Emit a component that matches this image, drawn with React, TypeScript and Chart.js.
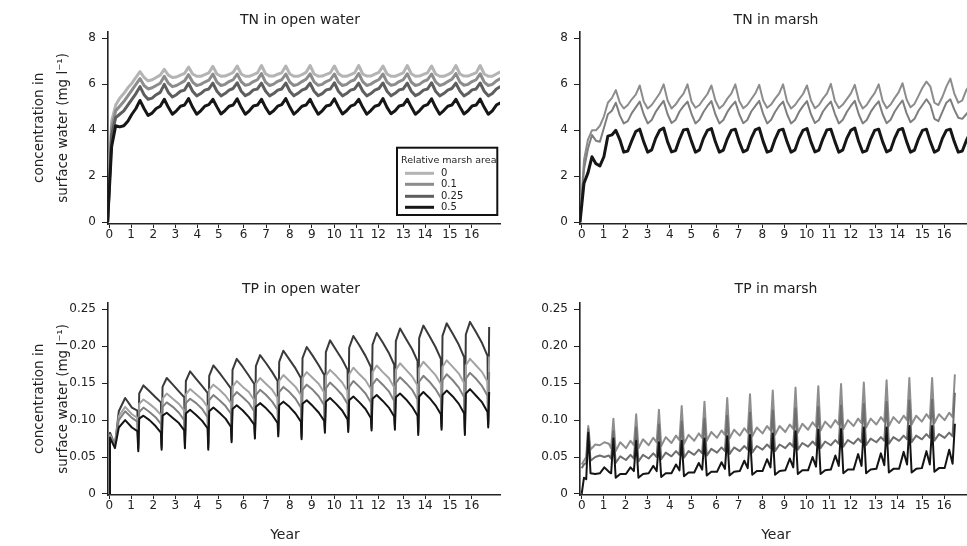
import React, { useEffect, useRef } from 'react';
import { Chart, registerables } from 'chart.js';

Chart.register(...registerables);

// ---------- axis labels ----------
const YEAR_LABELS = ['0', '1', '2', '3', '4', '5', '6', '7', '8', '9', '10', '11', '12', '13', '14', '15', '16'];
const YEAR_TICKS = [0, 0.96, 1.94, 2.91, 3.89, 4.84, 5.93, 6.92, 7.97, 8.94, 9.93, 10.92, 11.88, 12.98, 13.94, 15.04, 16.0];
const TN_TICKS = [0, 2, 4, 6, 8];
const TN_TICK_LABELS = ['0', '2', '4', '6', '8'];
const TP_TICKS = [0, 0.05, 0.1, 0.15, 0.2, 0.25];
const TP_TICK_LABELS = ['0', '0.05', '0.10', '0.15', '0.20', '0.25'];
const SERIES_LABELS = ['0', '0.1', '0.25', '0.5'];
const LEGEND_TITLE = 'Relative marsh area';
const Y_TITLE = ['concentration in', 'surface water (mg l\u207B\u00B9)'];

// ---------- time grids (years) ----------
const TNO_T0 = -0.075, TNO_DT = 0.1788, TNO_N = 99;
const TNM_T0 = -0.075, TNM_DT = 0.1758, TNM_N = 99;
const TPO_INIT_T = [0, 0.03, 0.25, 0.42, 0.7, 1.0, 1.24];
const TPO_START = 1.28, TPO_PERIOD = 1.03, TPO_CYCLES = 15;
const TPO_PHASES = [0, 0.04, 0.22, 0.48, 0.74, 0.97];
const TPO_FINAL = [0, 0.04];
const TPM_INIT_T = [0, 0.1, 0.2, 0.29, 0.39, 0.6, 0.8, 1.0, 1.2, 1.3];
const TPM_START = 1.4, TPM_PERIOD = 1.005, TPM_CYCLES = 15;
const TPM_PHASES = [0, 0.1, 0.3, 0.55, 0.75, 0.9];
const TPM_FINAL = [0];

// ---------- TN in open water ----------
const TNO_R0 = [
  0, 4.4, 5.1, 5.4, 5.6, 5.85, 6.05, 6.3,
  6.55, 6.3, 6.15, 6.2, 6.3, 6.4,
  6.65, 6.4, 6.3, 6.32, 6.4, 6.48,
  6.75, 6.45, 6.35, 6.35, 6.42, 6.5,
  6.78, 6.45, 6.35, 6.36, 6.43, 6.52,
  6.8, 6.45, 6.35, 6.35, 6.42, 6.5,
  6.82, 6.46, 6.36, 6.36, 6.44, 6.5,
  6.8, 6.45, 6.35, 6.35, 6.42, 6.52,
  6.82, 6.45, 6.35, 6.36, 6.43, 6.5,
  6.8, 6.46, 6.35, 6.35, 6.42, 6.5,
  6.82, 6.45, 6.36, 6.36, 6.44, 6.52,
  6.8, 6.45, 6.35, 6.35, 6.42, 6.5,
  6.82, 6.46, 6.35, 6.36, 6.43, 6.5,
  6.8, 6.45, 6.35, 6.35, 6.42, 6.52,
  6.82, 6.45, 6.36, 6.36, 6.43, 6.5,
  6.82, 6.45, 6.35, 6.35, 6.45, 6.55,
  6.8,
];
const TNO_R01 = [
  0, 4.1, 4.85, 5.05, 5.25, 5.5, 5.75, 6.0,
  6.25, 5.95, 5.8, 5.85, 5.95, 6.05,
  6.35, 6.05, 5.9, 5.95, 6.05, 6.15,
  6.42, 6.1, 5.95, 6.0, 6.1, 6.18,
  6.45, 6.1, 5.95, 6.0, 6.12, 6.2,
  6.45, 6.12, 5.96, 6.0, 6.12, 6.2,
  6.47, 6.1, 5.95, 6.01, 6.13, 6.2,
  6.45, 6.1, 5.95, 6.0, 6.12, 6.22,
  6.46, 6.11, 5.96, 6.0, 6.12, 6.2,
  6.45, 6.1, 5.95, 6.0, 6.13, 6.2,
  6.47, 6.12, 5.95, 6.01, 6.12, 6.21,
  6.45, 6.1, 5.96, 6.0, 6.12, 6.2,
  6.46, 6.1, 5.95, 6.0, 6.13, 6.2,
  6.45, 6.11, 5.95, 6.01, 6.12, 6.22,
  6.47, 6.1, 5.96, 6.0, 6.12, 6.2,
  6.46, 6.1, 5.95, 6.0, 6.15, 6.25,
  6.45,
];
const TNO_R025 = [
  0, 3.8, 4.55, 4.7, 4.85, 5.1, 5.35, 5.6,
  5.9, 5.55, 5.35, 5.4, 5.55, 5.65,
  6.0, 5.65, 5.45, 5.55, 5.7, 5.75,
  6.05, 5.7, 5.5, 5.6, 5.75, 5.8,
  6.05, 5.7, 5.5, 5.6, 5.75, 5.82,
  6.07, 5.7, 5.51, 5.6, 5.76, 5.8,
  6.05, 5.71, 5.5, 5.6, 5.75, 5.8,
  6.06, 5.7, 5.5, 5.61, 5.75, 5.82,
  6.05, 5.7, 5.51, 5.6, 5.76, 5.8,
  6.07, 5.7, 5.5, 5.6, 5.75, 5.8,
  6.05, 5.71, 5.5, 5.6, 5.75, 5.82,
  6.06, 5.7, 5.5, 5.61, 5.76, 5.8,
  6.05, 5.7, 5.51, 5.6, 5.75, 5.8,
  6.07, 5.7, 5.5, 5.6, 5.75, 5.82,
  6.05, 5.71, 5.5, 5.6, 5.76, 5.8,
  6.06, 5.7, 5.5, 5.6, 5.8, 5.9,
  6.1,
];
const TNO_R05 = [
  0, 3.3, 4.2, 4.15, 4.2, 4.4, 4.7, 4.95,
  5.3, 4.95, 4.65, 4.75, 4.95, 5.05,
  5.35, 5.0, 4.7, 4.85, 5.05, 5.1,
  5.38, 5.0, 4.7, 4.85, 5.05, 5.12,
  5.35, 5.02, 4.71, 4.86, 5.05, 5.1,
  5.37, 5.0, 4.7, 4.85, 5.06, 5.1,
  5.35, 5.0, 4.72, 4.85, 5.05, 5.12,
  5.38, 5.01, 4.7, 4.86, 5.05, 5.1,
  5.35, 5.0, 4.7, 4.85, 5.06, 5.1,
  5.37, 5.02, 4.71, 4.85, 5.05, 5.12,
  5.35, 5.0, 4.7, 4.86, 5.05, 5.1,
  5.38, 5.0, 4.72, 4.85, 5.06, 5.1,
  5.35, 5.01, 4.7, 4.85, 5.05, 5.12,
  5.37, 5.0, 4.7, 4.86, 5.05, 5.1,
  5.35, 5.02, 4.71, 4.85, 5.06, 5.1,
  5.36, 5.0, 4.7, 4.85, 5.1, 5.2,
  5.4,
];

// ---------- TN in marsh ----------
const TNM_R01 = [
  0, 2.7, 3.6, 4.0, 4.0, 4.2, 4.6, 5.2, 5.4,
  5.75, 5.2, 4.95, 5.1, 5.35, 5.55,
  5.95, 5.25, 4.95, 5.1, 5.35, 5.6,
  6.0, 5.3, 4.95, 5.12, 5.38, 5.6,
  6.0, 5.25, 4.98, 5.1, 5.35, 5.58,
  5.95, 5.3, 4.95, 5.1, 5.38, 5.6,
  6.0, 5.28, 4.96, 5.1, 5.35, 5.6,
  5.98, 5.3, 4.98, 5.12, 5.38, 5.6,
  6.0, 5.25, 4.95, 5.1, 5.35, 5.58,
  5.95, 5.3, 4.96, 5.1, 5.38, 5.6,
  6.02, 5.28, 4.97, 5.12, 5.36, 5.6,
  5.98, 5.3, 4.95, 5.1, 5.38, 5.62,
  6.0, 5.28, 4.96, 5.12, 5.4, 5.65,
  6.05, 5.35, 5.0, 5.15, 5.5, 5.85,
  6.12, 5.9, 5.2, 5.1, 5.45, 5.9,
  6.25, 5.6, 5.2, 5.3, 5.75, 6.0,
];
const TNM_R025 = [
  0, 2.3, 3.2, 3.8, 3.55, 3.5, 4.1, 4.7, 4.85,
  5.2, 4.65, 4.3, 4.4, 4.75, 5.0,
  5.25, 4.7, 4.3, 4.45, 4.8, 5.05,
  5.28, 4.7, 4.32, 4.45, 4.82, 5.05,
  5.25, 4.72, 4.3, 4.46, 4.8, 5.06,
  5.27, 4.7, 4.3, 4.45, 4.8, 5.05,
  5.25, 4.7, 4.31, 4.45, 4.82, 5.05,
  5.28, 4.72, 4.3, 4.46, 4.8, 5.06,
  5.25, 4.7, 4.3, 4.45, 4.8, 5.05,
  5.27, 4.7, 4.32, 4.45, 4.82, 5.05,
  5.25, 4.72, 4.3, 4.46, 4.8, 5.06,
  5.28, 4.7, 4.3, 4.45, 4.8, 5.05,
  5.26, 4.7, 4.31, 4.46, 4.82, 5.08,
  5.3, 4.75, 4.35, 4.5, 4.85, 5.1,
  5.35, 5.1, 4.5, 4.4, 4.8, 5.2,
  5.35, 4.9, 4.55, 4.5, 4.7, 4.9,
];
const TNM_R05 = [
  0, 1.7, 2.15, 2.85, 2.55, 2.45, 2.85, 3.75, 3.8,
  4.0, 3.6, 3.05, 3.1, 3.55, 3.95,
  4.05, 3.5, 3.05, 3.15, 3.65, 4.0,
  4.1, 3.5, 3.06, 3.12, 3.62, 4.02,
  4.05, 3.52, 3.05, 3.15, 3.65, 4.0,
  4.08, 3.5, 3.05, 3.14, 3.63, 4.0,
  4.05, 3.5, 3.06, 3.15, 3.65, 4.02,
  4.1, 3.52, 3.05, 3.12, 3.62, 4.0,
  4.05, 3.5, 3.05, 3.15, 3.65, 4.0,
  4.08, 3.5, 3.06, 3.14, 3.63, 4.02,
  4.05, 3.52, 3.05, 3.15, 3.65, 4.0,
  4.1, 3.5, 3.05, 3.12, 3.62, 4.0,
  4.05, 3.5, 3.06, 3.15, 3.65, 4.02,
  4.08, 3.52, 3.05, 3.14, 3.63, 4.0,
  4.05, 3.5, 3.05, 3.15, 3.65, 4.0,
  4.05, 3.5, 3.05, 3.1, 3.55, 3.9,
];

// ---------- TP in open water ----------
const TPO_R025 = [
  0, 0.083, 0.066, 0.112, 0.13, 0.117, 0.113,
  0.066, 0.136, 0.147, 0.139, 0.131, 0.124,
  0.068, 0.145, 0.157, 0.148, 0.139, 0.131,
  0.07, 0.153, 0.166, 0.156, 0.146, 0.137,
  0.068, 0.16, 0.174, 0.164, 0.153, 0.143,
  0.078, 0.168, 0.183, 0.172, 0.16, 0.149,
  0.083, 0.173, 0.188, 0.177, 0.165, 0.153,
  0.086, 0.179, 0.194, 0.182, 0.17, 0.157,
  0.082, 0.184, 0.199, 0.187, 0.174, 0.161,
  0.091, 0.192, 0.208, 0.195, 0.182, 0.168,
  0.092, 0.198, 0.214, 0.201, 0.187, 0.172,
  0.094, 0.202, 0.218, 0.205, 0.191, 0.175,
  0.095, 0.207, 0.224, 0.21, 0.196, 0.18,
  0.088, 0.211, 0.228, 0.214, 0.199, 0.183,
  0.095, 0.214, 0.231, 0.217, 0.202, 0.185,
  0.088, 0.216, 0.233, 0.219, 0.204, 0.187,
  0.098, 0.226,
];
const TPO_R0 = [
  0, 0.08, 0.068, 0.105, 0.118, 0.108, 0.103,
  0.063, 0.122, 0.128, 0.122, 0.115, 0.107,
  0.065, 0.129, 0.136, 0.129, 0.122, 0.113,
  0.067, 0.135, 0.142, 0.135, 0.128, 0.118,
  0.065, 0.141, 0.148, 0.141, 0.133, 0.123,
  0.075, 0.145, 0.153, 0.145, 0.138, 0.127,
  0.08, 0.149, 0.157, 0.149, 0.141, 0.13,
  0.083, 0.153, 0.161, 0.153, 0.145, 0.134,
  0.079, 0.157, 0.165, 0.157, 0.149, 0.137,
  0.088, 0.16, 0.168, 0.16, 0.151, 0.139,
  0.089, 0.162, 0.171, 0.162, 0.154, 0.142,
  0.091, 0.165, 0.174, 0.165, 0.157, 0.144,
  0.092, 0.168, 0.177, 0.168, 0.159, 0.147,
  0.085, 0.17, 0.179, 0.17, 0.161, 0.149,
  0.092, 0.172, 0.181, 0.172, 0.163, 0.15,
  0.085, 0.174, 0.183, 0.174, 0.165, 0.152,
  0.095, 0.186,
];
const TPO_R01 = [
  0, 0.078, 0.068, 0.1, 0.112, 0.103, 0.098,
  0.061, 0.111, 0.117, 0.111, 0.104, 0.095,
  0.063, 0.118, 0.124, 0.118, 0.11, 0.1,
  0.065, 0.123, 0.129, 0.123, 0.115, 0.104,
  0.063, 0.127, 0.134, 0.127, 0.119, 0.109,
  0.073, 0.131, 0.138, 0.131, 0.123, 0.112,
  0.078, 0.134, 0.141, 0.134, 0.125, 0.114,
  0.081, 0.138, 0.145, 0.138, 0.129, 0.117,
  0.077, 0.141, 0.148, 0.141, 0.132, 0.12,
  0.086, 0.143, 0.151, 0.143, 0.134, 0.122,
  0.087, 0.145, 0.153, 0.145, 0.136, 0.124,
  0.089, 0.148, 0.156, 0.148, 0.139, 0.126,
  0.09, 0.15, 0.158, 0.15, 0.141, 0.128,
  0.083, 0.152, 0.16, 0.152, 0.142, 0.13,
  0.09, 0.154, 0.162, 0.154, 0.144, 0.131,
  0.083, 0.156, 0.164, 0.156, 0.146, 0.133,
  0.093, 0.165,
];
const TPO_R05 = [
  0, 0.076, 0.062, 0.09, 0.1, 0.09, 0.085,
  0.058, 0.102, 0.106, 0.1, 0.092, 0.083,
  0.06, 0.106, 0.11, 0.103, 0.096, 0.086,
  0.062, 0.109, 0.114, 0.107, 0.099, 0.089,
  0.06, 0.112, 0.117, 0.11, 0.102, 0.091,
  0.07, 0.115, 0.12, 0.113, 0.104, 0.094,
  0.075, 0.118, 0.123, 0.116, 0.107, 0.096,
  0.078, 0.12, 0.125, 0.118, 0.109, 0.098,
  0.074, 0.122, 0.127, 0.119, 0.11, 0.099,
  0.083, 0.125, 0.13, 0.122, 0.113, 0.101,
  0.084, 0.127, 0.132, 0.124, 0.115, 0.103,
  0.086, 0.129, 0.134, 0.126, 0.117, 0.105,
  0.087, 0.131, 0.136, 0.128, 0.118, 0.106,
  0.08, 0.132, 0.138, 0.13, 0.12, 0.108,
  0.087, 0.134, 0.14, 0.132, 0.122, 0.109,
  0.08, 0.136, 0.142, 0.133, 0.124, 0.111,
  0.09, 0.138,
];

// ---------- TP in marsh ----------
const TPM_R01 = [
  0.04, 0.045, 0.05, 0.092, 0.06, 0.067, 0.066, 0.07, 0.068, 0.062,
  0.102, 0.058, 0.07, 0.062, 0.072, 0.066,
  0.108, 0.062, 0.074, 0.066, 0.076, 0.07,
  0.114, 0.065, 0.077, 0.069, 0.079, 0.073,
  0.119, 0.068, 0.08, 0.072, 0.082, 0.076,
  0.125, 0.072, 0.084, 0.076, 0.086, 0.08,
  0.13, 0.075, 0.087, 0.079, 0.089, 0.083,
  0.135, 0.078, 0.09, 0.082, 0.092, 0.086,
  0.14, 0.08, 0.092, 0.084, 0.094, 0.088,
  0.144, 0.083, 0.095, 0.087, 0.097, 0.091,
  0.146, 0.086, 0.098, 0.09, 0.1, 0.094,
  0.149, 0.088, 0.1, 0.092, 0.102, 0.096,
  0.151, 0.09, 0.102, 0.094, 0.104, 0.098,
  0.154, 0.092, 0.104, 0.096, 0.106, 0.1,
  0.157, 0.094, 0.106, 0.098, 0.108, 0.102,
  0.157, 0.096, 0.108, 0.1, 0.11, 0.104,
  0.162,
];
const TPM_R025 = [
  0.035, 0.04, 0.042, 0.088, 0.045, 0.05, 0.052, 0.05, 0.052, 0.048,
  0.085, 0.042, 0.051, 0.046, 0.053, 0.048,
  0.09, 0.044, 0.053, 0.048, 0.055, 0.05,
  0.094, 0.047, 0.056, 0.051, 0.058, 0.053,
  0.098, 0.049, 0.058, 0.053, 0.06, 0.055,
  0.102, 0.052, 0.061, 0.056, 0.063, 0.058,
  0.106, 0.054, 0.063, 0.058, 0.065, 0.06,
  0.11, 0.056, 0.065, 0.06, 0.067, 0.062,
  0.113, 0.058, 0.067, 0.062, 0.069, 0.064,
  0.116, 0.06, 0.069, 0.064, 0.071, 0.066,
  0.118, 0.062, 0.071, 0.066, 0.073, 0.068,
  0.12, 0.064, 0.073, 0.068, 0.075, 0.07,
  0.122, 0.066, 0.075, 0.07, 0.077, 0.072,
  0.125, 0.068, 0.077, 0.072, 0.079, 0.074,
  0.127, 0.07, 0.079, 0.074, 0.081, 0.076,
  0.128, 0.072, 0.081, 0.076, 0.083, 0.078,
  0.137,
];
const TPM_R05 = [
  0, 0.022, 0.02, 0.083, 0.028, 0.027, 0.028, 0.036, 0.03, 0.028,
  0.075, 0.022, 0.027, 0.027, 0.036, 0.031,
  0.072, 0.022, 0.027, 0.028, 0.038, 0.031,
  0.07, 0.023, 0.028, 0.028, 0.04, 0.032,
  0.072, 0.024, 0.029, 0.029, 0.042, 0.033,
  0.075, 0.025, 0.03, 0.03, 0.043, 0.034,
  0.078, 0.025, 0.03, 0.031, 0.045, 0.035,
  0.08, 0.026, 0.031, 0.031, 0.047, 0.036,
  0.082, 0.026, 0.031, 0.032, 0.048, 0.036,
  0.085, 0.027, 0.032, 0.032, 0.05, 0.037,
  0.087, 0.027, 0.032, 0.033, 0.052, 0.038,
  0.088, 0.028, 0.033, 0.033, 0.054, 0.038,
  0.09, 0.028, 0.033, 0.034, 0.055, 0.039,
  0.09, 0.029, 0.034, 0.034, 0.057, 0.04,
  0.092, 0.029, 0.034, 0.035, 0.058, 0.04,
  0.092, 0.03, 0.035, 0.035, 0.06, 0.041,
  0.095,
];

// ---------- helpers ----------
function uniformGrid(t0: number, dt: number, n: number): number[] {
  const out: number[] = [];
  for (let i = 0; i < n; i++) out.push(t0 + i * dt);
  return out;
}
function cycleGrid(init: number[], start: number, period: number, phases: number[], n: number, fin: number[]): number[] {
  const out = [...init];
  for (let k = 0; k < n; k++) for (const p of phases) out.push(start + (k + p) * period);
  for (const p of fin) out.push(start + (n + p) * period);
  return out;
}

const FONT = 'DejaVu Sans';
const INK = '#222222';
const C0 = '#b4b4b4', C01 = '#8c8c8c', C025 = '#5e5e5e', C05 = '#161616';

type Series = { label: string; values: number[]; color: string; width: number; order: number };
type Panel = {
  key: string; left: number; top: number; width: number; height: number;
  times: number[]; series: Series[];
  xMin: number; xMax: number; yMin: number; yMax: number;
  yTicks: number[]; yLabels: string[];
  yWidth: number; xHeight: number; padTop: number; padRight: number;
  title: string; titleX: number; titleY: number;
  yearX?: number; yearY?: number; yTitle?: boolean; legend?: boolean;
};

const PANELS: Panel[] = [
  {
    key: 'tno', left: 0, top: 0, width: 505, height: 270,
    times: uniformGrid(TNO_T0, TNO_DT, TNO_N),
    series: [
      { label: SERIES_LABELS[0], values: TNO_R0, color: C0, width: 3, order: 3 },
      { label: SERIES_LABELS[1], values: TNO_R01, color: C01, width: 3, order: 2 },
      { label: SERIES_LABELS[2], values: TNO_R025, color: C025, width: 3, order: 1 },
      { label: SERIES_LABELS[3], values: TNO_R05, color: C05, width: 3, order: 0 },
    ],
    xMin: -0.057, xMax: 17.25, yMin: -0.074, yMax: 8.29,
    yTicks: TN_TICKS, yLabels: TN_TICK_LABELS,
    yWidth: 108, xHeight: 46, padTop: 31.7, padRight: 5,
    title: 'TN in open water', titleX: 300, titleY: 20, yTitle: true, legend: true,
  },
  {
    key: 'tnm', left: 505, top: 0, width: 462, height: 270,
    times: uniformGrid(TNM_T0, TNM_DT, TNM_N),
    series: [
      { label: SERIES_LABELS[1], values: TNM_R01, color: '#8c8c8c', width: 2, order: 2 },
      { label: SERIES_LABELS[2], values: TNM_R025, color: '#7e7e7e', width: 2, order: 1 },
      { label: SERIES_LABELS[3], values: TNM_R05, color: C05, width: 3, order: 0 },
    ],
    xMin: -0.075, xMax: 17.01, yMin: -0.074, yMax: 8.29,
    yTicks: TN_TICKS, yLabels: TN_TICK_LABELS,
    yWidth: 75, xHeight: 46, padTop: 31.7, padRight: 0,
    title: 'TN in marsh', titleX: 271, titleY: 20,
  },
  {
    key: 'tpo', left: 0, top: 270, width: 505, height: 276,
    times: cycleGrid(TPO_INIT_T, TPO_START, TPO_PERIOD, TPO_PHASES, TPO_CYCLES, TPO_FINAL),
    series: [
      { label: SERIES_LABELS[2], values: TPO_R025, color: '#3a3a3a', width: 2, order: 3 },
      { label: SERIES_LABELS[0], values: TPO_R0, color: '#a3a3a3', width: 2, order: 2 },
      { label: SERIES_LABELS[1], values: TPO_R01, color: '#808080', width: 2, order: 1 },
      { label: SERIES_LABELS[3], values: TPO_R05, color: '#141414', width: 2, order: 0 },
    ],
    xMin: -0.057, xMax: 17.25, yMin: -0.0014, yMax: 0.259,
    yTicks: TP_TICKS, yLabels: TP_TICK_LABELS,
    yWidth: 108, xHeight: 51, padTop: 32.7, padRight: 5,
    title: 'TP in open water', titleX: 301, titleY: 19, yearX: 285, yearY: 265, yTitle: true,
  },
  {
    key: 'tpm', left: 505, top: 270, width: 462, height: 276,
    times: cycleGrid(TPM_INIT_T, TPM_START, TPM_PERIOD, TPM_PHASES, TPM_CYCLES, TPM_FINAL),
    series: [
      { label: SERIES_LABELS[1], values: TPM_R01, color: '#8e8e8e', width: 2, order: 2 },
      { label: SERIES_LABELS[2], values: TPM_R025, color: '#6e6e6e', width: 2, order: 1 },
      { label: SERIES_LABELS[3], values: TPM_R05, color: '#141414', width: 2, order: 0 },
    ],
    xMin: -0.075, xMax: 17.01, yMin: -0.0014, yMax: 0.259,
    yTicks: TP_TICKS, yLabels: TP_TICK_LABELS,
    yWidth: 75, xHeight: 51, padTop: 32.7, padRight: 0,
    title: 'TP in marsh', titleX: 271, titleY: 19, yearX: 271, yearY: 265,
  },
];

const LEGEND_SERIES = [
  { label: SERIES_LABELS[0], color: C0 },
  { label: SERIES_LABELS[1], color: C01 },
  { label: SERIES_LABELS[2], color: C025 },
  { label: SERIES_LABELS[3], color: C05 },
];

function decoPlugin(p: Panel) {
  return {
    id: 'deco_' + p.key,
    afterDraw(chart: any) {
      const ctx = chart.ctx as CanvasRenderingContext2D;
      ctx.save();
      ctx.fillStyle = INK;
      ctx.font = `14px "${FONT}"`;
      ctx.textAlign = 'center';
      ctx.textBaseline = 'middle';
      ctx.fillText(p.title, p.titleX, p.titleY);
      if (p.yearX != null && p.yearY != null) ctx.fillText('Year', p.yearX, p.yearY);
      if (p.legend) {
        ctx.lineWidth = 2;
        ctx.strokeStyle = '#111';
        ctx.strokeRect(397, 147.7, 100.3, 67.3);
        ctx.textAlign = 'left';
        ctx.font = `9.5px "${FONT}"`;
        ctx.fillText(LEGEND_TITLE, 401, 161);
        const rows = [173.3, 184.3, 196.3, 207.3];
        ctx.font = `10px "${FONT}"`;
        LEGEND_SERIES.forEach((s, i) => {
          ctx.beginPath();
          ctx.strokeStyle = s.color;
          ctx.lineWidth = 3;
          ctx.moveTo(405, rows[i]);
          ctx.lineTo(434, rows[i]);
          ctx.stroke();
          ctx.fillStyle = INK;
          ctx.fillText(s.label, 441, rows[i] + 0.5);
        });
      }
      ctx.restore();
    },
  };
}

function makeConfig(p: Panel): any {
  return {
    type: 'line',
    data: {
      datasets: p.series.map((s) => ({
        label: s.label,
        data: s.values.map((v, i) => ({ x: p.times[i], y: v })),
        borderColor: s.color,
        backgroundColor: s.color,
        borderWidth: s.width,
        pointRadius: 0,
        fill: false,
        tension: 0,
        order: s.order,
        borderJoinStyle: 'round',
      })),
    },
    options: {
      animation: false,
      responsive: false,
      maintainAspectRatio: false,
      devicePixelRatio: 1,
      layout: { padding: { top: p.padTop, right: p.padRight, left: 0, bottom: 0 } },
      plugins: { legend: { display: false }, tooltip: { enabled: false }, title: { display: false } },
      scales: {
        x: {
          type: 'linear',
          min: p.xMin,
          max: p.xMax,
          afterBuildTicks: (s: any) => { s.ticks = YEAR_TICKS.map((v) => ({ value: v })); },
          afterFit: (s: any) => { s.height = p.xHeight; },
          ticks: {
            autoSkip: false, maxRotation: 0, minRotation: 0,
            callback: (_v: any, i: number) => YEAR_LABELS[i],
            font: { family: FONT, size: 12 }, color: INK, padding: 0,
          },
          grid: { drawOnChartArea: false, drawTicks: true, tickLength: 4, color: INK, lineWidth: 1 },
          border: { display: true, color: INK, width: 1.6 },
        },
        y: {
          type: 'linear',
          min: p.yMin,
          max: p.yMax,
          afterBuildTicks: (s: any) => { s.ticks = p.yTicks.map((v) => ({ value: v })); },
          afterFit: (s: any) => { s.width = p.yWidth; },
          ticks: {
            autoSkip: false,
            callback: (_v: any, i: number) => p.yLabels[i],
            font: { family: FONT, size: 12 }, color: INK, padding: 6,
          },
          grid: { drawOnChartArea: false, drawTicks: true, tickLength: 6, color: INK, lineWidth: 1 },
          border: { display: true, color: INK, width: 1.6 },
          title: p.yTitle
            ? { display: true, text: Y_TITLE, color: INK, font: { family: FONT, size: 13.5, lineHeight: 1.78 }, padding: { top: 27, bottom: 0 } }
            : { display: false },
        },
      },
    },
    plugins: [decoPlugin(p)],
  };
}

function PanelChart({ p }: { p: Panel }) {
  const ref = useRef<HTMLCanvasElement | null>(null);
  useEffect(() => {
    if (!ref.current) return;
    const chart = new Chart(ref.current, makeConfig(p));
    return () => chart.destroy();
  }, [p]);
  return (
    <canvas
      ref={ref}
      width={p.width}
      height={p.height}
      style={{ position: 'absolute', left: p.left, top: p.top, width: p.width, height: p.height }}
    />
  );
}

export default function App() {
  return (
    <div style={{ position: 'absolute', left: 0, top: 0, width: 967, height: 546, background: '#fff', overflow: 'hidden' }}>
      {PANELS.map((p) => <PanelChart key={p.key} p={p} />)}
    </div>
  );
}
